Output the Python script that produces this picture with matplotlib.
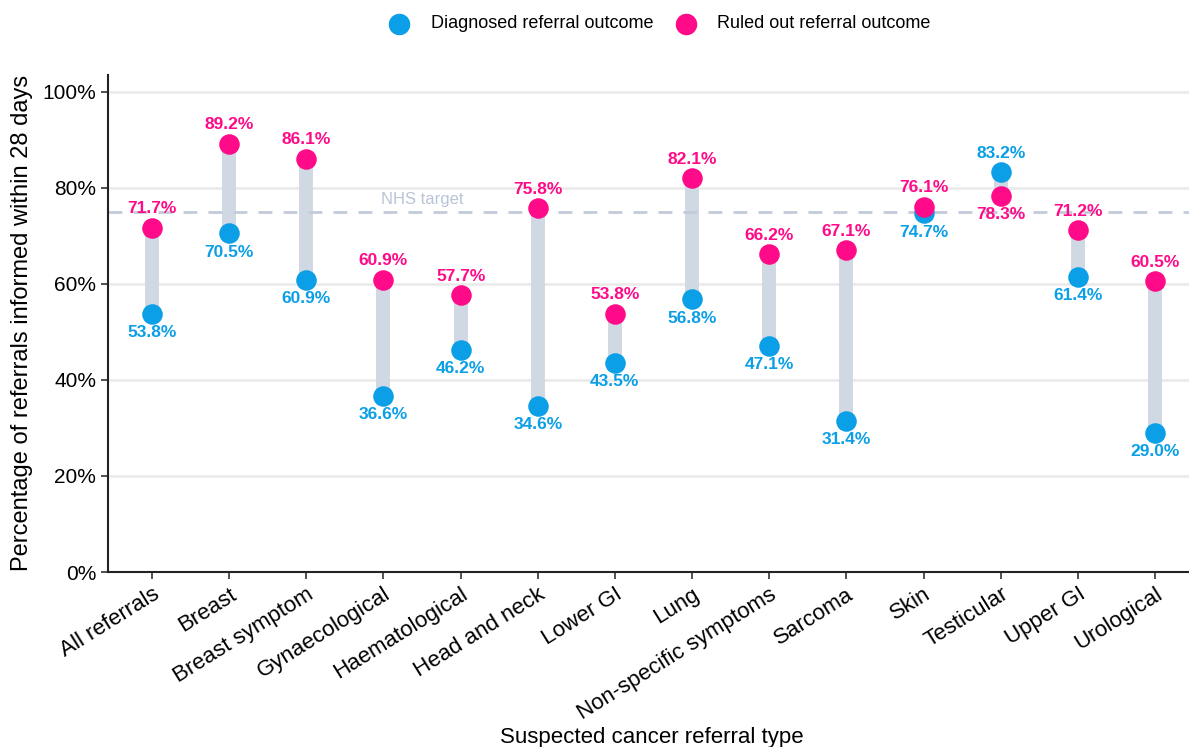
import matplotlib.pyplot as plt

plt.rcParams['font.family'] = ['Liberation Sans', 'DejaVu Sans']

categories = ['All referrals', 'Breast', 'Breast symptom', 'Gynaecological',
              'Haematological', 'Head and neck', 'Lower GI', 'Lung',
              'Non-specific symptoms', 'Sarcoma', 'Skin', 'Testicular',
              'Upper GI', 'Urological']
diagnosed = [53.8, 70.5, 60.9, 36.6, 46.2, 34.6, 43.5, 56.8, 47.1, 31.4, 74.7, 83.2, 61.4, 29.0]
ruled_out = [71.7, 89.2, 86.1, 60.9, 57.7, 75.8, 53.8, 82.1, 66.2, 67.1, 76.1, 78.3, 71.2, 60.5]
nhs_target = 75
yticks = [0, 20, 40, 60, 80, 100]

blue = '#0a9fe6'
pink = '#ff0a88'
seg = '#cfd8e3'

fig = plt.figure(figsize=(11.89, 7.47), dpi=100)
ax = fig.add_axes([108 / 1189, 1 - 572 / 747, 1 - 108 / 1189, (572 - 75) / 747])

x = list(range(len(categories)))

for yv in yticks[1:]:
    ax.axhline(yv, color='#ebebeb', lw=2, zorder=0)

ax.vlines(x, diagnosed, ruled_out, color=seg, lw=10, zorder=1)
ax.axhline(nhs_target, color='#c3cbd9', lw=2, ls=(0, (5, 4)), zorder=2)
ax.text(3.5, nhs_target + 1.1, 'NHS target', color='#b9c4d6', fontsize=12,
        ha='center', va='bottom')

ax.scatter(x, diagnosed, s=190, color=blue, zorder=3, label='Diagnosed referral outcome')
ax.scatter(x, ruled_out, s=190, color=pink, zorder=4, label='Ruled out referral outcome')

for i, (d, r) in enumerate(zip(diagnosed, ruled_out)):
    if r >= d:
        r_off, d_off = 13.5, -13.5
    else:
        r_off, d_off = -13.5, 13.5
    ax.annotate(f'{r:.1f}%', (i, r), xytext=(0, r_off), textcoords='offset points',
                ha='center', va='center', color=pink, fontsize=12.5, fontweight='bold', zorder=5)
    ax.annotate(f'{d:.1f}%', (i, d), xytext=(0, d_off), textcoords='offset points',
                ha='center', va='center', color=blue, fontsize=12.5, fontweight='bold', zorder=5)

ax.set_xlim(-0.57, 13.44)
ax.set_ylim(0, 103.5)
ax.set_yticks(yticks)
ax.set_yticklabels([f'{v}%' for v in yticks], fontsize=15)
ax.set_xticks(x)
ax.set_xticklabels(categories, rotation=32, ha='right', rotation_mode='anchor', fontsize=16)
ax.tick_params(axis='both', color='#333333', length=5, width=1.2)
for side in ['top', 'right']:
    ax.spines[side].set_visible(False)
for side in ['left', 'bottom']:
    ax.spines[side].set_linewidth(1.5)
    ax.spines[side].set_color('#222222')

fig.text(22 / 1189, 1 - 323 / 747, 'Percentage of referrals informed within 28 days',
         rotation=90, ha='center', va='center', fontsize=17)
fig.text(652 / 1189, 1 - 737 / 747, 'Suspected cancer referral type',
         ha='center', va='center', fontsize=16)

fig.legend(loc='center', bbox_to_anchor=(656 / 1189, 1 - 24 / 747), ncol=2,
           frameon=False, fontsize=13, handletextpad=0.75, columnspacing=0.8,
           markerscale=1.05)

plt.savefig('out.png', dpi=100)
